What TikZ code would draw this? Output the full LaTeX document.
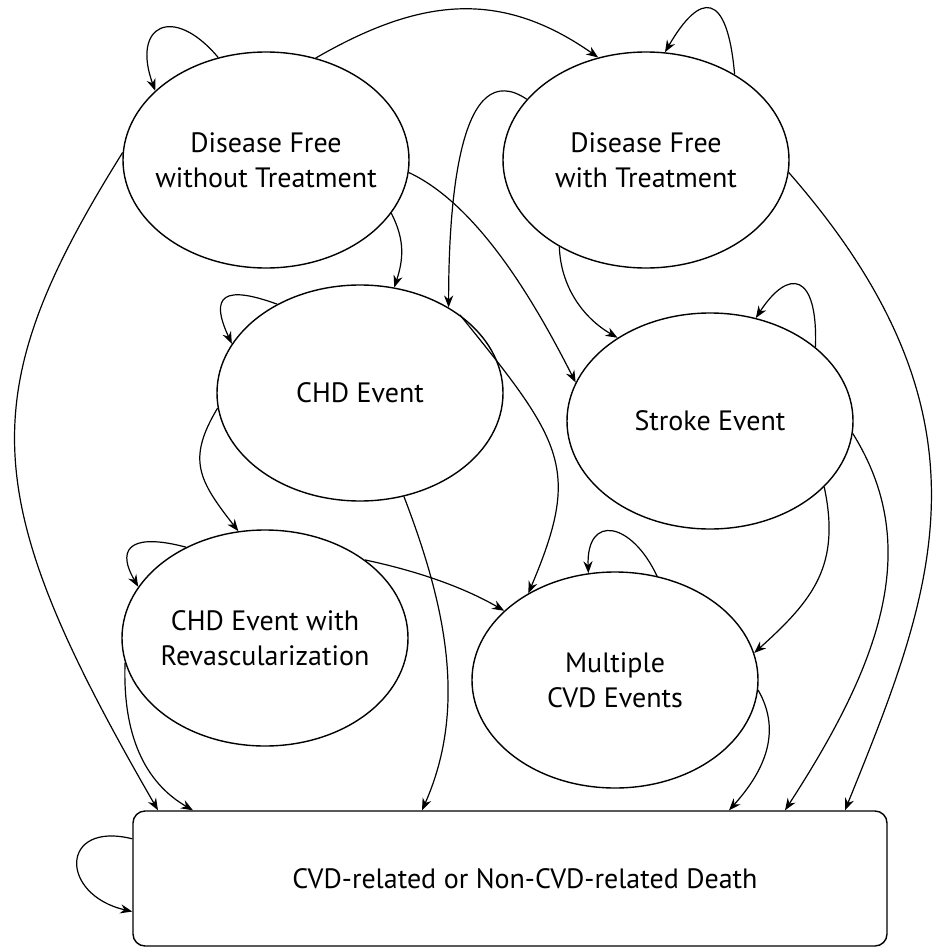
\documentclass[tikz,border=0pt]{standalone}
\usepackage{fontspec}
\setmainfont{PT Sans}
\usetikzlibrary{arrows.meta,shapes.geometric}

\begin{document}
\begin{tikzpicture}[x=0.5pt,y=0.5pt,
  stateellipse/.style={draw,ellipse,line width=0.7pt,minimum width=143pt,minimum height=108pt,
    inner xsep=-9pt,inner ysep=0pt,align=center,font=\fontsize{14}{17.5}\selectfont},
  deathbox/.style={draw,rectangle,rounded corners=6pt,line width=0.7pt,minimum width=377pt,
    minimum height=67.5pt,font=\fontsize{14}{17.5}\selectfont},
  trans/.style={line width=0.6pt,-{Stealth[length=6pt,width=4.6pt]}}]
\useasboundingbox (0,0) rectangle (934,-947);
% states
\node[stateellipse] (dfnotx) at (266,-160) {Disease Free\\without Treatment};
\node[stateellipse] (dftx) at (646,-160) {Disease Free\\with Treatment};
\node[stateellipse] (chd) at (360,-393) {CHD Event};
\node[stateellipse] (stroke) at (710,-421) {Stroke Event};
\node[stateellipse] (rev) at (265,-638) {CHD Event with\\Revascularization};
\node[stateellipse] (multi) at (615,-680) {Multiple\\CVD Events};
\node[deathbox] (death) at (510,-878.5) {\hspace*{15pt}CVD-related or Non-CVD-related Death};
% entry points on the death box
\coordinate (dA) at ([xshift=-176pt]death.north);
\coordinate (dR) at ([xshift=-158.5pt]death.north);
\coordinate (dC) at ([xshift=-44pt]death.north);
\coordinate (dM) at ([xshift=109.5pt]death.north);
\coordinate (dS) at ([xshift=137.5pt]death.north);
\coordinate (dB) at ([xshift=167.5pt]death.north);
% transitions
\draw[trans] (dfnotx.115) .. controls +(130:70) and +(110:70) .. (dfnotx.148);
\draw[trans] (dfnotx.64) .. controls +(30:120) and +(145:120) .. (dftx.115);
\draw[trans] (dfnotx.177) .. controls +(238:287) and +(120:362) .. (dA);
\draw[trans] (dfnotx.-23) .. controls +(-63:30) and +(72:30) .. (chd.72);
\draw[trans] (dfnotx.-5) .. controls +(-25:80) and +(117:80) .. (stroke.164);
\draw[trans] (dftx.44) .. controls +(95:85) and +(60:70) .. (dftx.80);
\draw[trans] (dftx.-5) .. controls +(-48.8:328) and +(68:236) .. (dB);
\draw[trans] (dftx.153) .. controls +(146:80) and +(90:110) .. (chd.44);
\draw[trans] (dftx.225) .. controls +(-88:40) and +(150:40) .. (stroke.138);
\draw[trans] (chd.133) .. controls +(160:55) and +(115:55) .. (chd.159);
\draw[trans] (chd.186) .. controls +(239:60) and +(128:65) .. (rev.104);
\draw[trans] (chd.-67) .. controls +(-69:112) and +(66:114.5) .. (dC);
\draw[trans] (chd.38) .. controls +(-51:165) and +(67:136) .. (multi.135);
\draw[trans] (stroke.35) .. controls +(88:75) and +(57:60) .. (stroke.66);
\draw[trans] (stroke.-30) .. controls +(-78:80) and +(42:80) .. (multi.11);
\draw[trans] (stroke.-5) .. controls +(-58:131) and +(57:180) .. (dS);
\draw[trans] (rev.131) .. controls +(165:50) and +(120:50) .. (rev.158);
\draw[trans] (rev.38) .. controls +(-12:50) and +(150:50) .. (multi.148);
\draw[trans] (rev.190) .. controls +(-92:80) and +(150:50) .. (dR);
\draw[trans] (multi.68) .. controls +(115:60) and +(92:60) .. (multi.104);
\draw[trans] (multi.-4) .. controls +(-60:50) and +(48:50) .. (dM);
\draw[trans] (death.174) .. controls +(166:75) and +(167:75) .. (death.185);
\end{tikzpicture}
\end{document}
